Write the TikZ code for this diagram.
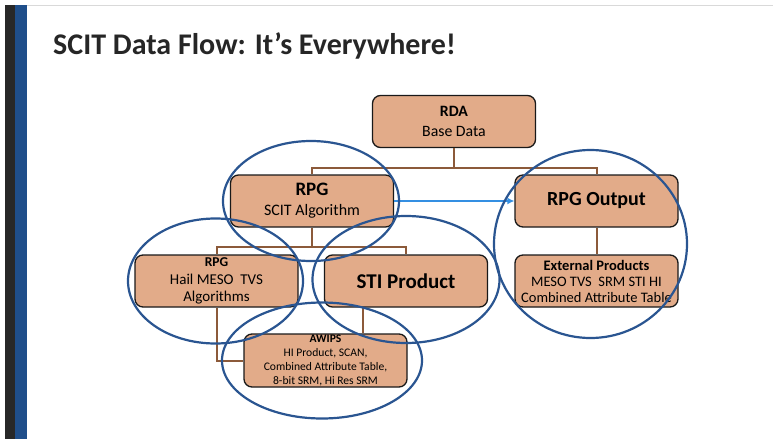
\documentclass[tikz,border=0pt]{standalone}
\usepackage{fontspec}
\setmainfont{Carlito}
\usetikzlibrary{arrows.meta,calc}

\definecolor{boxfill}{RGB}{226,171,137}
\definecolor{treeline}{RGB}{140,90,58}
\definecolor{ringblue}{RGB}{42,85,145}
\definecolor{flowblue}{RGB}{52,143,226}
\definecolor{bardark}{RGB}{40,40,40}
\definecolor{barblue}{RGB}{31,78,138}

\newcommand{\fs}[2]{\fontsize{#1}{#2}\selectfont}

\tikzset{
	box/.style = {draw = black!90, line width = 1.3pt, rounded corners = 8pt, fill = boxfill,
		minimum width = 163pt, minimum height = 52pt, inner sep = 0pt, align = center},
	tree/.style = {draw = treeline, line width = 2pt},
	ring/.style = {draw = ringblue, line width = 2.2pt},
	flow/.style = {draw = flowblue, line width = 2.2pt, -{Latex[length = 7pt, width = 7pt]}},
}

\begin{document}
\begin{tikzpicture}[x = 1pt, y = -1pt]
	\fill [white] (0,0) rectangle (773,439);
	\useasboundingbox (0,0) rectangle (773,439);
	% slide frame
	\fill [bardark] (5,5) rectangle (15,439);
	\fill [barblue] (15,5) rectangle (27,439);
	\draw [black!15, line width = 1pt] (27,5) -- (773,5);
	\node [anchor = base west, inner sep = 0pt, text = black!85, font = \bfseries\fs{30}{36}] (title) at (53,54) {SCIT Data Flow: It’s Everywhere!};

	% boxes
	\node [box, font = \fs{15.8}{19.5}] (rda) at (454,121.5) {\textbf{RDA}\\Base Data};
	\node [box, font = \fs{16}{20}] (rpg) at (312,201) {{\bfseries\fs{19}{20}RPG}\\SCIT Algorithm};
	\node [box, font = \bfseries\fs{20}{23}] (rpgout) at (596.5,201) {RPG Output};
	\node [box, font = \fs{15}{17.5}] (hail) at (216.5,281) {{\bfseries\fs{13.5}{17.5}RPG}\\Hail MESO\ \ TVS\\Algorithms};
	\node [box, font = \bfseries\fs{21}{24}] (sti) at (406,281) {STI Product};
	\node [box, font = \fs{14.5}{16}] (ext) at (596.5,281) {\textbf{External Products}\\MESO TVS\ \ SRM STI HI\\Combined Attribute Table};
	\node [box, minimum height = 53pt, font = \fs{11.6}{13.8}] (awips) at (325.5,360.5) {\textbf{AWIPS}\\HI Product, SCAN,\\Combined Attribute Table,\\8-bit SRM, Hi Res SRM};

	% tree lines
	\coordinate (bus1) at (454,168);
	\coordinate (bus2) at (312,247);
	\draw [tree] (rda.south) -- (bus1);
	\draw [tree] (rpg.north) |- (bus1) -| (rpgout.north);
	\draw [tree] (rpg.south) -- (bus2);
	\draw [tree] (hail.north) |- (bus2) -| (sti.north);
	\draw [tree] (hail.south) |- (awips.west);
	\draw [tree] ([xshift = -43pt]sti.south) -- ([xshift = -43pt]sti.south |- awips.north);
	\draw [tree] (rpgout.south) -- (ext.north);
	\draw [flow] (rpg.east) -- (rpgout.west);

	% rings
	\draw [ring] ([xshift = -1pt]rpg.center) ellipse [x radius = 88pt, y radius = 60pt];
	\draw [ring] ([xshift = -1pt]hail.center) ellipse [x radius = 87.5pt, y radius = 62.5pt];
	\draw [ring] ([yshift = 1.5pt]sti.center) ellipse [x radius = 93.5pt, y radius = 63.5pt];
	\draw [ring] ([xshift = -3.5pt]awips.center) ellipse [x radius = 100pt, y radius = 58pt];
	\draw [ring] ($(rpgout)!0.5!(ext)+(-6,3)$) ellipse [x radius = 96.5pt, y radius = 94pt];
\end{tikzpicture}
\end{document}
